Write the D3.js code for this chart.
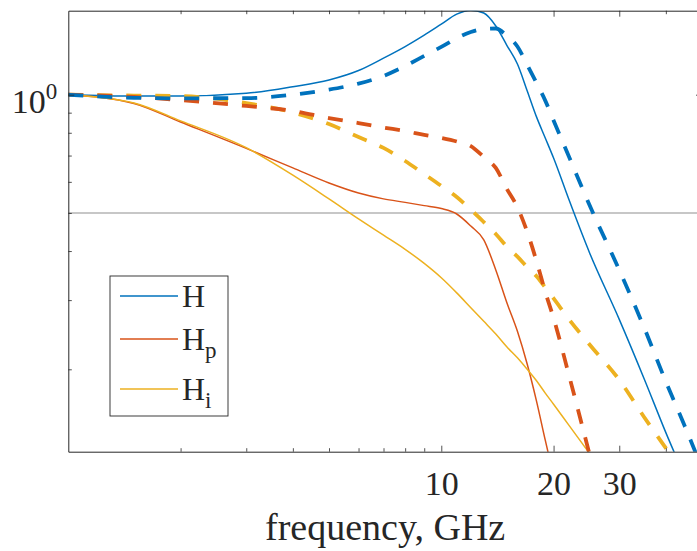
<!DOCTYPE html>
<html><head><meta charset="utf-8">
<script src="https://cdn.jsdelivr.net/npm/d3@7/dist/d3.min.js"></script>
<style>
body{margin:0;background:#fff;}
svg{display:block;}
text{font-family:"Liberation Serif","Times New Roman",serif;fill:#262626;}
</style>
</head><body>
<svg id="c" width="697" height="551"></svg>
<script>
// ---- data (frequency in GHz, magnitude linear) ----
const freqs = [1,1.5,2,3,4,5,6,7,8,9,10,11,12,13,14,15,16,17,18,19,20,22,25,30,35,40,45,50];
const H_solid  = [1.0,0.992,0.992,1.008,1.048,1.090,1.152,1.239,1.326,1.418,1.512,1.603,1.640,1.614,1.496,1.334,1.197,1.022,0.878,0.776,0.690,0.540,0.395,0.268,0.189,0.138,0.106,0.082];
const Hp_solid = [1.0,0.950,0.852,0.730,0.651,0.596,0.562,0.543,0.532,0.522,0.513,0.497,0.463,0.427,0.358,0.295,0.250,0.206,0.166,0.132,0.107,null,null,null,null,null,null,null];
const Hi_solid = [1.0,0.953,0.858,0.733,0.624,0.543,0.483,0.439,0.404,0.372,0.342,0.313,0.287,0.265,0.246,0.228,0.214,0.200,0.187,0.174,0.163,0.144,0.122,null,null,null,null,null];
const H_dash   = [1.0,0.982,0.979,0.980,1.000,1.030,1.067,1.116,1.183,1.255,1.323,1.392,1.444,1.470,1.474,1.411,1.326,1.190,1.071,0.966,0.860,0.695,0.522,0.358,0.255,0.186,0.143,0.112];
const Hp_dash  = [1.0,0.987,0.969,0.936,0.909,0.872,0.847,0.825,0.808,0.790,0.776,0.760,0.740,0.694,0.651,0.575,0.517,0.447,0.377,0.315,0.270,0.193,0.121,null,null,null,null,null];
const Hi_dash  = [1.0,0.995,0.992,0.952,0.901,0.842,0.780,0.732,0.678,0.628,0.586,0.549,0.510,0.474,0.442,0.410,0.387,0.364,0.345,0.323,0.303,0.268,0.231,0.188,0.151,0.126,0.108,null];
const refLevel = 0.5;
const xMajorTicks = [10,20,30];
const xMinorTicks = [2,3,4,5,6,7,8,9,40];
const yMajorTicks = [1];
const yMinorTicks = [0.2,0.3,0.4,0.5,0.6,0.7,0.8,0.9];
const legendLabels = [["H",""],["H","p"],["H","i"]];
const xLabel = "frequency, GHz";

// ---- layout ----
const L=68.3, R=702, T=10.7, B=451.7;
const AX="#262626";
const colors = ["#0072BD","#D95319","#EDB120"];
const svg = d3.select("#c");
const x = d3.scaleLog().domain([1,50]).range([L,R]);
const y = d3.scaleLog().domain([0.1234,1.636]).range([B,T]);

svg.append("defs").append("clipPath").attr("id","clip")
  .append("rect").attr("x",L).attr("y",T).attr("width",R-L).attr("height",B-T);

const plot = svg.append("g").attr("clip-path","url(#clip)");

// reference line
plot.append("line").attr("x1",L).attr("x2",R).attr("y1",y(refLevel)).attr("y2",y(refLevel))
  .attr("stroke","#8f8f8f").attr("stroke-width",1.1);

const line = d3.line().defined(d=>d[1]!=null).curve(d3.curveMonotoneX).x(d=>x(d[0])).y(d=>y(d[1]));
const zip = arr => freqs.map((f,i)=>[f,arr[i]]);

const series = [
  {v:H_solid, c:colors[0], w:1.5, dash:null},
  {v:Hp_solid,c:colors[1], w:1.5, dash:null},
  {v:Hi_solid,c:colors[2], w:1.5, dash:null},
  {v:Hi_dash, c:colors[2], w:3.8, dash:"15,14"},
  {v:Hp_dash, c:colors[1], w:3.8, dash:"15,14"},
  {v:H_dash,  c:colors[0], w:3.8, dash:"15,14"}
];
series.forEach(s=>{
  plot.append("path").datum(zip(s.v)).attr("d",line)
    .attr("fill","none").attr("stroke",s.c).attr("stroke-width",s.w)
    .attr("stroke-dasharray",s.dash).attr("stroke-linejoin","round");
});

// ---- axes ----
function style(g){
  g.attr("font-family",'"Liberation Serif","Times New Roman",serif');
  g.selectAll(".domain").attr("stroke",AX).attr("stroke-width",1);
  g.selectAll(".tick line").attr("stroke",AX).attr("stroke-width",0.8);
  g.selectAll("text").attr("fill",AX);
}
// bottom
const gb = svg.append("g").attr("transform",`translate(0,${B})`)
  .call(d3.axisBottom(x).tickValues(xMajorTicks).tickSize(-6).tickSizeOuter(0).tickPadding(19).tickFormat(d3.format("d")));
gb.attr("font-size",34); style(gb);
const gbm = svg.append("g").attr("transform",`translate(0,${B})`)
  .call(d3.axisBottom(x).tickValues(xMinorTicks).tickSize(-3.5).tickSizeOuter(0).tickFormat(""));
gbm.select(".domain").remove(); style(gbm);
// top
const gt = svg.append("g").attr("transform",`translate(0,${T})`)
  .call(d3.axisTop(x).tickValues(xMajorTicks).tickSize(-6).tickSizeOuter(0).tickFormat(""));
style(gt);
const gtm = svg.append("g").attr("transform",`translate(0,${T})`)
  .call(d3.axisTop(x).tickValues(xMinorTicks).tickSize(-3.5).tickSizeOuter(0).tickFormat(""));
gtm.select(".domain").remove(); style(gtm);
// left
const gl = svg.append("g").attr("transform",`translate(${L},0)`)
  .call(d3.axisLeft(y).tickValues(yMajorTicks).tickSize(-6).tickSizeOuter(0).tickFormat(""));
style(gl);
const glm = svg.append("g").attr("transform",`translate(${L},0)`)
  .call(d3.axisLeft(y).tickValues(yMinorTicks).tickSize(-3.5).tickSizeOuter(0).tickFormat(""));
glm.select(".domain").remove(); style(glm);
// right
const gr = svg.append("g").attr("transform",`translate(${R},0)`)
  .call(d3.axisRight(y).tickValues(yMajorTicks).tickSize(-6).tickSizeOuter(0).tickFormat(""));
style(gr);
const grm = svg.append("g").attr("transform",`translate(${R},0)`)
  .call(d3.axisRight(y).tickValues(yMinorTicks).tickSize(-3.5).tickSizeOuter(0).tickFormat(""));
grm.select(".domain").remove(); style(grm);

// y tick label 10^0
yMajorTicks.forEach(v=>{
  const t = svg.append("text").attr("x",L-11).attr("y",y(v)+18.5).attr("text-anchor","end");
  t.append("tspan").attr("font-size",34).text("10");
  t.append("tspan").attr("font-size",23).attr("dy",-14).text(Math.round(Math.log10(v)));
});

// x label
svg.append("text").attr("x",(L+R)/2).attr("y",540).attr("text-anchor","middle")
  .attr("font-size",38).text(xLabel);

// ---- legend ----
const lg = svg.append("g");
lg.append("rect").attr("x",110).attr("y",276).attr("width",118).attr("height",140)
  .attr("fill","#fff").attr("stroke",AX).attr("stroke-width",0.9);
const rows=[296,339,389];
legendLabels.forEach((lab,i)=>{
  lg.append("line").attr("x1",120).attr("x2",178).attr("y1",rows[i]).attr("y2",rows[i])
    .attr("stroke",colors[i]).attr("stroke-width",1.5);
  const t = lg.append("text").attr("x",182).attr("y",rows[i]+10.5).attr("font-size",32);
  t.append("tspan").text(lab[0]);
  if(lab[1]) t.append("tspan").attr("font-size",23).attr("dy",8.5).text(lab[1]);
});
</script>
</body></html>
